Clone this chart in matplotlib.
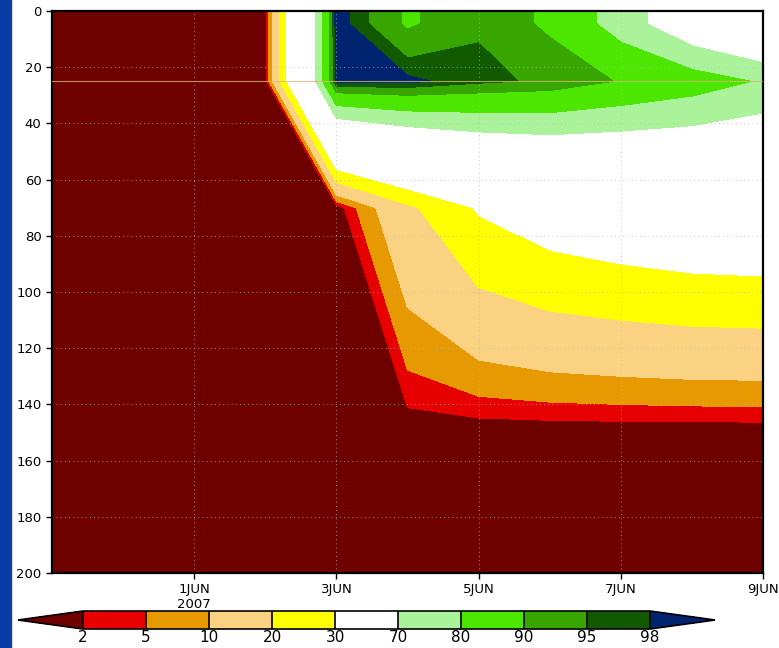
import numpy as np
import matplotlib
matplotlib.use("Agg")
import matplotlib.pyplot as plt
import matplotlib.dates as mdates
from matplotlib.colors import ListedColormap, BoundaryNorm
from matplotlib.patches import Rectangle
import datetime as dt

plt.rcParams['font.family'] = ['Liberation Sans Narrow', 'DejaVu Sans']

# time axis: daily values, 30 May - 9 Jun 2007
times = [dt.datetime(2007, 5, 30) + dt.timedelta(days=i) for i in range(11)]
depths = [0, 4.5, 25, 70, 150, 200]

# field values (%) per depth level, one value per day
v_0 = [0, 0, 0, 0, 100, 89, 94.5, 88.7, 75.5, 60.6, 51]
v_4 = [0, 0, 0, 0, 100, 89, 94.5, 88.7, 75.5, 60.6, 51]
v_25 = [0, 0, 0, 0, 99, 99, 96, 94.2, 89.5, 85, 79]
v_70 = [0, 0, 0, 0, 0, 18, 31, 37, 40, 42.3, 43.1]
v_150 = [0] * 11
v_200 = [0] * 11

levels = [2, 5, 10, 20, 30, 70, 80, 90, 95, 98]
colors = ['#e60000', '#e69900', '#fad282', '#ffff00', '#ffffff',
          '#aaf39a', '#4ce600', '#37a600', '#125a00']
under_color = '#6e0000'
over_color = '#002470'

tick_days = [dt.datetime(2007, 6, d) for d in (1, 3, 5, 7, 9)]
tick_labels = ['1JUN\n2007', '3JUN', '5JUN', '7JUN', '9JUN']

values = np.array([v_0, v_4, v_25, v_70, v_150, v_200])
x = mdates.date2num(times)

cmap = ListedColormap(colors)
cmap.set_under(under_color)
cmap.set_over(over_color)
norm = BoundaryNorm(levels, cmap.N)

fig = plt.figure(figsize=(7.79, 6.48), dpi=100)
fig.patches.append(Rectangle((0, 0), 11 / 779, 1, transform=fig.transFigure,
                             color='#0a3ca5', zorder=-1))

ax = fig.add_axes([52 / 779, 75 / 648, 711 / 779, 562 / 648])
cf = ax.contourf(x, depths, values, levels=levels, cmap=cmap, norm=norm,
                 extend='both')
ax.axhline(25, color='#d9b47c', lw=0.8, alpha=0.8, zorder=3)

ax.set_xlim(x[0], x[-1])
ax.set_ylim(200, 0)
ax.set_yticks(range(0, 201, 20))
ax.set_xticks(mdates.date2num(tick_days))
ax.set_xticklabels(tick_labels)
ax.tick_params(labelsize=9.5, length=4, width=1, direction='out')
ax.grid(True, color='#b8b8b8', lw=0.6, linestyle=(0, (1, 4)))
for s in ax.spines.values():
    s.set_linewidth(1.6)

cax = fig.add_axes([18 / 779, 19 / 648, 697 / 779, 18 / 648])
cb = fig.colorbar(cf, cax=cax, orientation='horizontal', extendfrac=0.115,
                  drawedges=True, ticks=levels)
cb.outline.set_linewidth(1.2)
cb.dividers.set_linewidth(1.2)
cb.ax.tick_params(length=0, labelsize=11, pad=1)
cb.ax.set_xticklabels([str(l) for l in levels])

fig.savefig('out.png', dpi=100)
